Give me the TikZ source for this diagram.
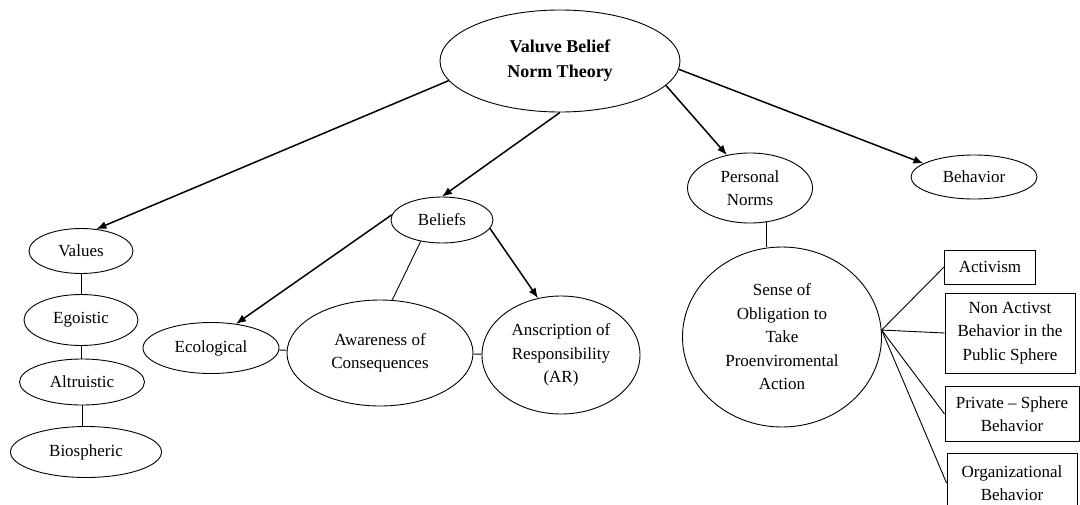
\documentclass[tikz,border=0pt]{standalone}
\usepackage{fontspec}
\setmainfont{Liberation Serif}
\usetikzlibrary{shapes.geometric,arrows.meta}

\tikzset{
    oval/.style={draw,ellipse,inner sep=0pt,align=center,line width=0.9pt},
    box/.style={draw,rectangle,inner sep=0pt,align=center,line width=0.9pt},
    link/.style={line width=0.9pt},
    push/.style={->,line width=1.5pt}
}

\begin{document}
\begin{tikzpicture}[>={Latex[length=10pt,width=8pt]},x=1pt,y=-1pt,font=\fontsize{17}{23.5}\selectfont]
        \path[use as bounding box,clip] (0,0) rectangle (1080,504);

        \node[oval,minimum width=240pt,minimum height=102pt,font=\fontsize{18}{25}\selectfont\bfseries] (theory) at (560,61) {Valuve Belief\\Norm Theory};

        % left branch
        \node[oval,minimum width=104pt,minimum height=45pt] (values) at (81,251) {Values};
        \node[oval,minimum width=114pt,minimum height=51pt] (egoistic) at (81,320) {Egoistic};
        \node[oval,minimum width=125pt,minimum height=46pt] (altruistic) at (82,382) {Altruistic};
        \node[oval,minimum width=151pt,minimum height=51pt] (biospheric) at (86,452) {Biospheric};

        % beliefs
        \node[oval,minimum width=102pt,minimum height=46pt] (beliefs) at (442,220) {Beliefs};
        \node[oval,minimum width=136pt,minimum height=51pt] (ecological) at (211,348) {Ecological};
        \node[oval,minimum width=186pt,minimum height=106pt] (awareness) at (380,353) {Awareness of\\Consequences};
        \node[oval,minimum width=158pt,minimum height=118pt] (anscription) at (561,355) {Anscription of\\Responsibility\\(AR)};

        % norms and behavior
        \node[oval,minimum width=125pt,minimum height=70pt] (personal) at (750,188) {Personal\\Norms};
        \node[oval,minimum width=126pt,minimum height=44pt] (behavior) at (974,177) {Behavior};
        \node[oval,minimum width=199pt,minimum height=180pt] (sense) at (782,337) {Sense of\\Obligation to\\Take\\Proenviromental\\Action};

        \node[box,minimum width=91pt,minimum height=34pt] (activism) at (990,267) {Activism};
        \node[box,minimum width=130pt,minimum height=80pt] (nonact) at (1010,333) {Non Activst\\Behavior in the\\Public Sphere};
        \node[box,minimum width=134pt,minimum height=55pt] (private) at (1012,414) {Private -- Sphere\\Behavior};
        \node[box,minimum width=130pt,minimum height=60pt] (org) at (1012,483) {Organizational\\Behavior};

        \draw[push] (theory.190) -- (values.55);
        \draw[push] (theory.south) -- (beliefs.north);
        \draw[push] (theory.-13) -- (personal.125);
        \draw[push] (theory.-4) -- (behavior.165);

        \foreach \a/\b in {values/egoistic,egoistic/altruistic,altruistic/biospheric}
        {
            \draw[link] (\a.south) -- (\a.south |- \b.north);
        }

        \draw[push] (beliefs.174) -- (ecological.44);
        \draw[push] (beliefs.-10) -- (anscription.112);
        \draw[link] (beliefs.225) -- (awareness.77);
        \draw[link] (ecological) -- (awareness);
        \draw[link] (awareness) -- (anscription);

        \draw[link] (personal.-65) -- (personal.-65 |- sense.north);
        \coordinate (hub) at (sense.4);
        \foreach \b in {activism,nonact,private,org}
        {
            \draw[link] (hub) -- (\b.west);
        }

    \end{tikzpicture}
\end{document}
